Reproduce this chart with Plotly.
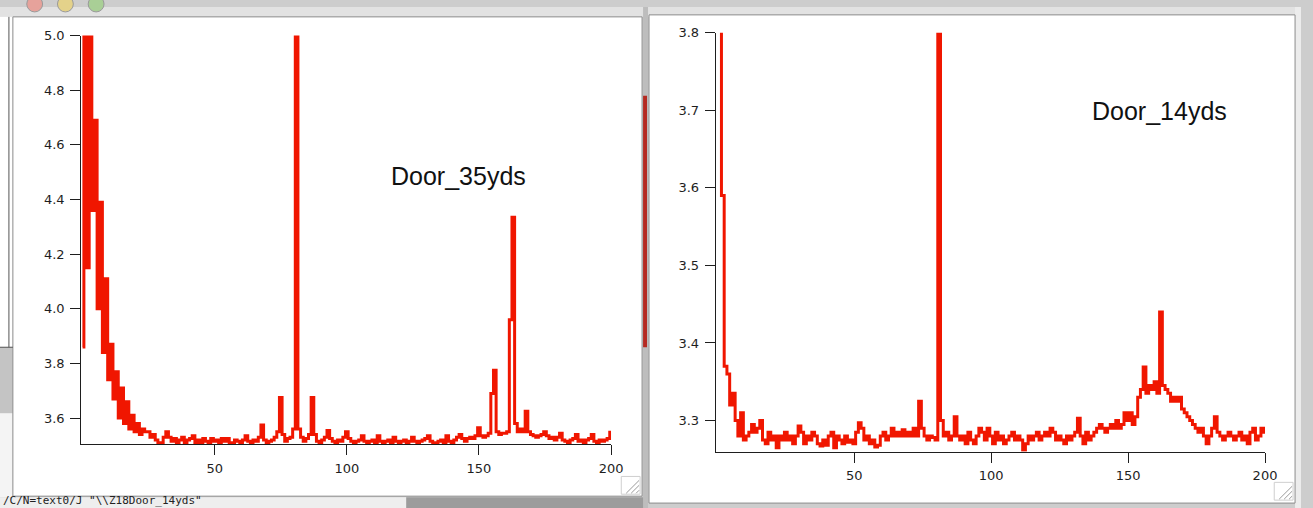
import plotly.graph_objects as go

W, H = 1313, 508
RED = "rgb(240,22,0)"
INK = "#1e1e1e"

# frequency index shared by both spectra
freq = list(range(0, 201))

door_35yds = [
    3.86, 5.30, 4.15, 5.30, 4.36, 4.69, 4.00, 4.39, 3.84, 4.11,
    3.74, 3.87, 3.67, 3.77, 3.60, 3.71, 3.58, 3.66, 3.56, 3.61,
    3.55, 3.58, 3.54, 3.56, 3.55, 3.55, 3.53, 3.54, 3.52, 3.51,
    3.51, 3.53, 3.55, 3.53, 3.515, 3.525, 3.51, 3.52, 3.53, 3.51,
    3.52, 3.525, 3.535, 3.51, 3.52, 3.51, 3.525, 3.515, 3.51, 3.525,
    3.515, 3.52, 3.51, 3.525, 3.515, 3.525, 3.51, 3.508, 3.52, 3.515,
    3.51, 3.52, 3.535, 3.515, 3.51, 3.52, 3.515, 3.53, 3.575, 3.52,
    3.51, 3.515, 3.52, 3.53, 3.55, 3.675, 3.54, 3.515, 3.525, 3.53,
    3.56, 5.30, 3.56, 3.53, 3.515, 3.525, 3.54, 3.675, 3.54, 3.515,
    3.51, 3.52, 3.53, 3.555, 3.525, 3.515, 3.508, 3.52, 3.515, 3.53,
    3.55, 3.525, 3.515, 3.51, 3.515, 3.52, 3.535, 3.515, 3.51, 3.515,
    3.52, 3.51, 3.535, 3.515, 3.51, 3.515, 3.52, 3.51, 3.53, 3.515,
    3.51, 3.515, 3.52, 3.51, 3.515, 3.53, 3.515, 3.51, 3.515, 3.52,
    3.525, 3.535, 3.515, 3.51, 3.508, 3.515, 3.52, 3.51, 3.535, 3.515,
    3.51, 3.52, 3.53, 3.54, 3.525, 3.515, 3.525, 3.53, 3.525, 3.535,
    3.565, 3.535, 3.53, 3.535, 3.545, 3.69, 3.775, 3.55, 3.54, 3.545,
    3.545, 3.55, 3.96, 4.335, 3.58, 3.55, 3.56, 3.55, 3.625, 3.55,
    3.54, 3.535, 3.53, 3.535, 3.54, 3.55, 3.535, 3.525, 3.53, 3.52,
    3.53, 3.545, 3.52, 3.515, 3.508, 3.52, 3.525, 3.54, 3.515, 3.52,
    3.51, 3.52, 3.525, 3.54, 3.515, 3.51, 3.52, 3.515, 3.52, 3.525,
    3.548,
]

door_14yds = [
    3.90, 3.90, 3.59, 3.37, 3.36, 3.32, 3.335, 3.30, 3.28, 3.31,
    3.275, 3.28, 3.285, 3.295, 3.285, 3.29, 3.30, 3.275, 3.27, 3.285,
    3.275, 3.28, 3.265, 3.28, 3.275, 3.285, 3.275, 3.28, 3.27, 3.28,
    3.293, 3.285, 3.27, 3.28, 3.275, 3.285, 3.28, 3.27, 3.267, 3.275,
    3.268, 3.28, 3.285, 3.265, 3.28, 3.275, 3.27, 3.28, 3.272, 3.275,
    3.27, 3.285, 3.297, 3.29, 3.275, 3.28, 3.27, 3.275, 3.266, 3.268,
    3.28, 3.285, 3.275, 3.28, 3.29, 3.28, 3.285, 3.28, 3.288, 3.28,
    3.285, 3.28, 3.29, 3.28, 3.325, 3.29, 3.28, 3.275, 3.28, 3.278,
    3.275, 3.90, 3.30, 3.28, 3.285, 3.275, 3.28, 3.305, 3.28, 3.275,
    3.28, 3.27, 3.285, 3.275, 3.27, 3.28, 3.29, 3.285, 3.275, 3.29,
    3.28, 3.27, 3.285, 3.275, 3.28, 3.27, 3.275, 3.28, 3.285, 3.275,
    3.28, 3.275, 3.262, 3.27, 3.28, 3.275, 3.28, 3.285, 3.275, 3.28,
    3.285, 3.28, 3.29, 3.285, 3.275, 3.28, 3.275, 3.27, 3.28, 3.275,
    3.28, 3.285, 3.303, 3.28, 3.27, 3.285, 3.275, 3.28, 3.285, 3.29,
    3.295, 3.29, 3.285, 3.29, 3.295, 3.29, 3.30, 3.29, 3.295, 3.31,
    3.30, 3.31, 3.295, 3.305, 3.33, 3.34, 3.369, 3.335, 3.345, 3.34,
    3.35, 3.335, 3.44, 3.345, 3.34, 3.335, 3.325, 3.33, 3.325, 3.33,
    3.315, 3.31, 3.305, 3.30, 3.295, 3.29, 3.285, 3.29, 3.28, 3.27,
    3.28, 3.29, 3.305, 3.285, 3.28, 3.275, 3.28, 3.285, 3.28, 3.275,
    3.28, 3.285, 3.275, 3.28, 3.27, 3.285, 3.29, 3.275, 3.28, 3.29,
    3.285,
]

x_ticks = [50, 100, 150, 200]
y_ticks_35 = [3.6, 3.8, 4.0, 4.2, 4.4, 4.6, 4.8, 5.0]
y_ticks_14 = [3.3, 3.4, 3.5, 3.6, 3.7, 3.8]


def fx(p):
    return p / W


def fy(p):
    return 1 - p / H


def rect(x0, y0, x1, y1, fill, line=None, lw=1):
    return dict(type="rect", xref="paper", yref="paper", layer="below",
                x0=fx(x0), x1=fx(x1), y0=fy(y1), y1=fy(y0),
                fillcolor=fill,
                line=dict(color=line or fill, width=lw if line else 0))


def seg(x0, y0, x1, y1, color, lw=1):
    return dict(type="line", xref="paper", yref="paper", layer="above",
                x0=fx(x0), x1=fx(x1), y0=fy(y0), y1=fy(y1),
                line=dict(color=color, width=lw))


def circ(cx, cy, r, fill):
    return dict(type="circle", xref="paper", yref="paper", layer="below",
                x0=fx(cx - r), x1=fx(cx + r), y0=fy(cy + r), y1=fy(cy - r),
                fillcolor=fill, line=dict(color="#9a9a9a", width=1))


fig = go.Figure()
# stepped traces, one sample per frequency bin
fig.add_trace(go.Scatter(x=freq, y=door_35yds, mode="lines", xaxis="x", yaxis="y",
                         line=dict(color=RED, width=3, shape="hvh"), showlegend=False))
fig.add_trace(go.Scatter(x=freq, y=door_14yds, mode="lines", xaxis="x2", yaxis="y2",
                         line=dict(color=RED, width=3, shape="hvh"), showlegend=False))

axis_common = dict(showgrid=False, zeroline=False, showline=True, linecolor=INK,
                   linewidth=1, ticks="outside", ticklen=10, tickcolor=INK,
                   tickwidth=1, tickfont=dict(family="DejaVu Sans", size=13, color=INK))

fig.update_layout(
    width=W, height=H, margin=dict(l=0, r=0, t=0, b=0),
    paper_bgcolor="#cdcdcd", plot_bgcolor="rgba(0,0,0,0)",
    xaxis=dict(domain=[fx(82), fx(616.7)], range=[-0.5, 200], anchor="y",
               tickvals=x_ticks, ticklabelstandoff=2, **axis_common),
    yaxis=dict(domain=[fy(443.3), fy(29)], range=[3.5045, 5.0], anchor="x",
               tickvals=y_ticks_35, ticktext=[f"{v:.1f}" for v in y_ticks_35],
               ticklabelstandoff=3, **axis_common),
    xaxis2=dict(domain=[fx(722.3), fx(1276.7)], range=[-0.6, 200], anchor="y2",
                tickvals=x_ticks, ticklabelstandoff=2, **axis_common),
    yaxis2=dict(domain=[fy(451), fy(26)], range=[3.2597, 3.8], anchor="x2",
                tickvals=y_ticks_14, ticktext=[f"{v:.1f}" for v in y_ticks_14],
                ticklabelstandoff=3, **axis_common),
)

shapes = [
    # title strip and windows behind
    rect(0, 0, W, 10, "#e2e2e2"),
    rect(0, 10, 13, 345, "#ffffff"),
    rect(0, 345, 13, 412, "#c4c4c4"),
    rect(0, 412, 13, 497, "#f4f4f4"),
    rect(649, 0, 654, H, "#bdbdbd"),
    rect(649, 90, 653, 345, "#b52a22"),
    rect(1307, 0, W, H, "#ececec"),
    # the two graph windows
    rect(13, 10, 648, 496, "#ffffff", "#8c8c8c"),
    rect(655, 8, 1307, 503, "#ffffff", "#8c8c8c"),
    # strip under the left window
    rect(0, 497, 410, H, "#eeeeee"),
    rect(410, 497, 649, H, "#9c9c9c"),
    # traffic-light buttons of the left window
    circ(35, -3, 8, "#e6a29b"),
    circ(66, -3, 8, "#e4d28a"),
    circ(97, -3, 8, "#a9cf96"),
    # behind-window frame edge
    seg(9, 10, 9, 345, "#555555"),
    seg(0, 345, 13, 345, "#555555"),
]
# resize grips
for gx, gy in [(646, 494), (1305, 500)]:
    shapes.append(rect(gx - 19, gy - 18, gx, gy, "#ffffff", "#cfcfcf"))
    for d in (4, 9, 14):
        shapes.append(seg(gx - d, gy - 1, gx - 1, gy - d, "#9a9a9a"))
fig.update_layout(shapes=shapes)

fig.add_annotation(x=fx(463), y=fy(171.5), xref="paper", yref="paper",
                   text="Door_35yds", showarrow=False, xanchor="center", yanchor="middle",
                   font=dict(family="Liberation Sans", size=25, color="#111111"))
fig.add_annotation(x=fx(1170), y=fy(105.5), xref="paper", yref="paper",
                   text="Door_14yds", showarrow=False, xanchor="center", yanchor="middle",
                   font=dict(family="Liberation Sans", size=25, color="#111111"))
fig.add_annotation(x=fx(2), y=fy(507.5), xref="paper", yref="paper",
                   text='/C/N=text0/J "\\\\Z18Door_14yds"', showarrow=False,
                   xanchor="left", yanchor="bottom",
                   font=dict(family="DejaVu Sans Mono", size=11, color="#222222"),
                   borderpad=0)

fig.write_html("out.html")
